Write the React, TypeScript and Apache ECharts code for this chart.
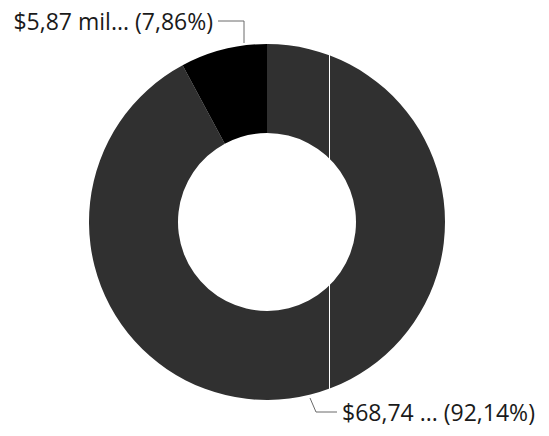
import React, { useEffect, useRef } from "react";
import * as echarts from "echarts";

const categories = ["$68,74 ...", "$5,87 mil..."];
const values = [68.744, 5.866];
const colors = ["#303030", "#000000"];

export default function App() {
  const ref = useRef<HTMLDivElement>(null);
  useEffect(() => {
    document.body.style.margin = "0";
    const chart = echarts.init(ref.current!, null, { renderer: "svg" });
    chart.setOption({
      animation: false,
      backgroundColor: "#ffffff",
      series: [
        {
          type: "pie",
          center: [267, 222],
          radius: [89, 178],
          startAngle: 90,
          clockwise: true,
          percentPrecision: 2,
          data: categories.map((c, i) => ({
            name: c,
            value: values[i],
            itemStyle: { color: colors[i] },
          })),
          label: {
            show: true,
            position: "outside",
            fontFamily: "Open Sans",
            fontSize: 23,
            color: "#1a1a1a",
            overflow: "none",
            width: 400,
            formatter: (p: any) =>
              `${p.name} (${p.percent.toFixed(2).replace(".", ",")}%)`,
          },
          labelLine: {
            show: true,
            lineStyle: { color: "#6a6a6a", width: 1 },
          },
          labelLayout: (p: any) => {
            if (p.dataIndex === 1) {
              return {
                x: 213,
                y: 21,
                align: "right",
                verticalAlign: "middle",
                labelLinePoints: [
                  [244, 43],
                  [244, 21],
                  [218, 21],
                ],
              };
            }
            return {
              x: 342,
              y: 412,
              align: "left",
              verticalAlign: "middle",
              labelLinePoints: [
                [310, 398],
                [316, 412],
                [337, 412],
              ],
            };
          },
          emphasis: { disabled: true },
        },
      ],
      graphic: [
        {
          type: "line",
          shape: { x1: 329.5, y1: 42, x2: 329.5, y2: 400 },
          style: { stroke: "#ffffff", lineWidth: 1 },
          z: 10,
        },
      ],
    });
    return () => chart.dispose();
  }, []);
  return <div ref={ref} style={{ width: 549, height: 436 }} />;
}
